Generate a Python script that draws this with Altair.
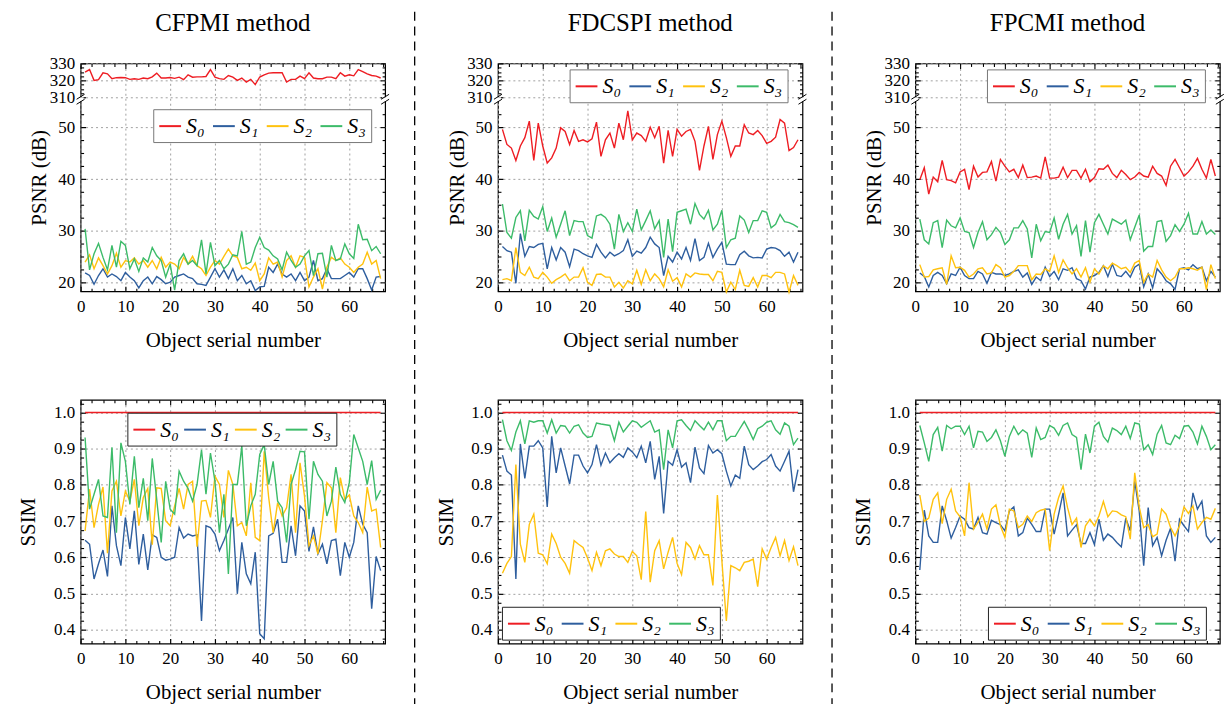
import altair as alt
import pandas as pd

X = list(range(1, 68))
SERIES = ["S₀", "S₁", "S₂", "S₃"]
COLORS = ["#EE1D23", "#2E5E9E", "#FFC20E", "#3CBB69"]
METHODS = ["CFPMI method", "FDCSPI method", "FPCMI method"]
X_TICKS = [0, 10, 20, 30, 40, 50, 60]
PSNR_LOW_TICKS = [20, 30, 40, 50]
PSNR_HIGH_TICKS = [310, 320, 330]
SSIM_TICKS = [0.4, 0.5, 0.6, 0.7, 0.8, 0.9, 1.0]

CF_PSNR_S0 = [324.9, 326.4, 320.0, 320.4, 324.5, 323.9, 321.0, 321.6, 321.7, 321.6, 320.6, 321.0, 320.6, 321.4, 321.0, 322.1, 324.3, 321.4, 321.4, 321.7, 321.2, 321.9, 320.4, 323.3, 321.9, 322.1, 322.1, 322.3, 326.4, 321.9, 321.0, 320.6, 322.9, 321.9, 320.0, 321.4, 319.0, 320.6, 317.5, 322.0, 323.3, 324.3, 324.5, 324.5, 324.5, 319.0, 320.6, 320.6, 322.5, 321.0, 324.5, 321.4, 321.0, 321.0, 321.9, 321.9, 321.0, 324.5, 322.5, 323.3, 322.7, 326.4, 325.2, 323.9, 322.9, 322.5, 321.4]
CF_PSNR_S1 = [21.9, 21.4, 19.7, 21.4, 22.7, 21.1, 21.7, 21.2, 20.4, 22.0, 21.1, 20.4, 19.0, 20.4, 21.1, 19.8, 21.2, 20.6, 19.8, 20.1, 21.1, 21.4, 21.7, 21.1, 20.8, 19.8, 19.7, 19.5, 21.1, 22.7, 21.1, 22.5, 20.8, 22.7, 20.4, 21.4, 19.8, 20.4, 18.5, 19.2, 19.3, 23.0, 22.0, 23.6, 21.7, 21.1, 21.7, 20.4, 22.0, 20.4, 21.1, 24.3, 20.4, 20.8, 22.7, 20.8, 20.8, 20.8, 21.4, 22.0, 21.1, 22.7, 22.7, 20.8, 18.6, 21.1, 21.2]
CF_PSNR_S2 = [24.0, 25.4, 22.7, 24.8, 23.3, 21.7, 23.3, 25.7, 23.0, 24.3, 24.0, 24.8, 23.6, 24.3, 23.0, 24.3, 22.7, 24.9, 23.0, 24.0, 23.6, 22.7, 24.9, 23.6, 25.1, 23.3, 22.7, 21.4, 23.0, 24.3, 23.6, 25.1, 26.5, 25.2, 24.9, 22.7, 23.0, 22.4, 23.8, 20.4, 21.7, 24.8, 23.6, 24.0, 21.1, 24.3, 25.2, 23.0, 25.2, 24.9, 19.2, 21.1, 22.7, 18.8, 23.0, 24.9, 24.3, 24.8, 23.6, 23.0, 22.0, 23.0, 23.6, 25.9, 23.6, 24.3, 20.8]
CF_PSNR_S3 = [30.4, 22.5, 25.6, 27.6, 24.9, 22.5, 27.2, 23.0, 28.0, 27.2, 22.7, 24.6, 22.2, 24.8, 24.0, 26.8, 25.2, 24.3, 21.1, 23.6, 18.6, 24.3, 25.6, 23.6, 24.3, 23.3, 28.3, 21.7, 27.8, 23.3, 24.3, 22.7, 23.6, 25.4, 25.2, 29.9, 23.6, 24.0, 26.8, 28.8, 26.8, 26.3, 25.2, 24.6, 22.5, 25.9, 24.3, 23.0, 23.6, 25.2, 26.2, 21.4, 25.6, 25.7, 21.1, 27.2, 24.3, 24.6, 27.5, 25.6, 24.7, 31.3, 28.3, 28.4, 26.2, 27.0, 25.6]

FD_PSNR_S0 = [49.6, 46.7, 46.0, 43.6, 46.4, 48.0, 51.2, 43.6, 50.8, 46.4, 43.1, 44.1, 46.0, 49.9, 49.2, 46.7, 49.4, 47.3, 47.6, 47.2, 47.8, 51.0, 44.4, 47.6, 48.9, 46.0, 50.8, 47.6, 53.2, 47.6, 48.9, 48.4, 47.3, 50.0, 48.0, 50.2, 43.1, 49.4, 44.4, 49.6, 48.3, 49.2, 49.6, 47.3, 41.7, 46.4, 50.2, 43.8, 48.6, 51.2, 48.0, 44.4, 46.4, 46.4, 50.5, 48.9, 48.6, 49.4, 48.4, 46.9, 47.3, 48.1, 51.5, 50.8, 45.5, 46.1, 47.6]
FD_PSNR_S1 = [27.0, 26.2, 25.9, 19.9, 29.5, 25.1, 27.0, 26.8, 27.4, 27.6, 22.7, 26.8, 24.4, 26.8, 25.9, 23.1, 26.5, 26.2, 25.6, 25.2, 24.9, 27.4, 25.9, 24.8, 25.9, 25.2, 25.6, 26.2, 28.3, 25.1, 26.1, 25.7, 26.8, 28.8, 27.5, 26.8, 21.4, 25.1, 24.0, 25.9, 24.6, 26.8, 24.3, 28.5, 24.3, 24.9, 27.6, 24.9, 26.5, 27.8, 23.6, 23.5, 23.5, 25.4, 26.1, 25.2, 24.8, 24.9, 24.8, 26.5, 26.8, 26.7, 26.2, 25.1, 25.9, 24.0, 25.9]
FD_PSNR_S2 = [20.6, 20.8, 20.4, 26.8, 22.0, 21.4, 23.0, 21.1, 20.8, 22.0, 21.1, 19.9, 20.6, 21.1, 21.7, 20.4, 21.1, 21.1, 22.9, 20.1, 19.5, 21.6, 21.7, 21.1, 21.1, 19.2, 20.1, 19.0, 20.4, 19.8, 22.4, 19.7, 22.5, 20.4, 21.7, 20.8, 19.2, 22.5, 20.3, 21.0, 19.2, 21.7, 21.1, 21.9, 21.7, 21.6, 21.6, 20.4, 22.2, 22.0, 18.2, 20.1, 18.7, 22.4, 19.5, 19.3, 21.0, 19.2, 21.4, 21.4, 21.0, 22.0, 22.0, 21.7, 18.2, 21.4, 19.5]
FD_PSNR_S3 = [35.2, 29.7, 28.6, 32.6, 33.9, 28.1, 34.0, 32.8, 32.3, 34.7, 29.9, 32.5, 28.8, 31.3, 33.9, 29.1, 32.0, 31.8, 31.8, 29.1, 28.6, 32.9, 33.2, 32.6, 31.3, 26.5, 33.2, 29.9, 31.6, 29.9, 34.2, 30.2, 32.0, 33.9, 30.4, 32.0, 24.9, 32.3, 26.0, 33.6, 33.9, 34.2, 31.3, 35.3, 33.2, 32.3, 34.0, 30.2, 31.3, 34.0, 26.8, 28.3, 28.6, 32.9, 32.1, 29.7, 32.0, 32.0, 33.9, 33.6, 30.6, 31.3, 33.2, 31.8, 31.6, 31.2, 30.7]

FP_PSNR_S0 = [39.9, 42.2, 37.1, 40.4, 39.5, 43.6, 39.9, 39.7, 39.3, 41.4, 41.9, 38.0, 42.5, 40.4, 41.3, 41.4, 43.4, 39.6, 43.8, 42.5, 41.4, 41.9, 40.3, 42.7, 40.3, 40.4, 40.6, 40.2, 44.3, 40.2, 40.2, 40.4, 42.3, 40.3, 41.7, 41.7, 40.2, 41.9, 39.5, 40.3, 42.0, 41.9, 42.7, 41.1, 40.3, 41.7, 40.9, 39.9, 40.4, 41.3, 40.6, 40.4, 42.5, 41.1, 40.6, 38.8, 42.5, 43.8, 42.2, 40.6, 41.4, 42.5, 44.0, 41.9, 40.2, 43.8, 40.6]
FP_PSNR_S1 = [21.9, 21.2, 19.2, 21.4, 22.0, 21.4, 19.8, 21.7, 21.4, 23.0, 21.4, 20.8, 20.8, 22.2, 21.7, 19.9, 22.0, 21.7, 21.7, 21.4, 21.7, 22.2, 22.5, 21.1, 21.9, 19.7, 21.1, 20.4, 23.0, 21.2, 22.2, 20.6, 22.7, 22.4, 22.9, 20.8, 20.4, 18.8, 21.1, 21.4, 22.0, 23.3, 21.2, 23.6, 21.4, 21.2, 22.2, 21.1, 23.0, 23.6, 19.2, 21.7, 19.0, 22.7, 21.7, 20.4, 19.8, 18.7, 22.7, 22.9, 22.5, 23.5, 22.7, 23.0, 20.4, 22.2, 21.1]
FP_PSNR_S2 = [23.5, 21.1, 21.2, 22.5, 22.7, 22.9, 19.7, 25.2, 22.9, 23.0, 22.4, 21.1, 21.7, 22.7, 22.9, 21.7, 21.9, 23.5, 22.9, 21.1, 21.4, 22.2, 23.3, 23.3, 23.3, 20.6, 21.7, 21.6, 22.7, 22.2, 25.2, 22.0, 24.4, 22.9, 21.7, 22.7, 21.1, 22.9, 20.1, 22.7, 21.7, 23.3, 22.7, 23.8, 23.3, 22.7, 23.0, 22.0, 23.8, 24.3, 20.1, 21.7, 21.1, 24.3, 22.5, 21.1, 20.4, 21.1, 22.7, 22.7, 22.9, 22.7, 22.4, 23.0, 18.7, 23.5, 20.8]
FP_PSNR_S3 = [32.3, 28.3, 27.5, 31.6, 32.0, 26.8, 32.1, 31.0, 30.6, 32.5, 29.9, 29.7, 26.8, 29.7, 31.8, 28.3, 29.3, 30.7, 29.7, 27.4, 28.3, 30.6, 30.6, 32.0, 30.4, 24.8, 31.3, 28.1, 29.9, 29.7, 32.5, 28.4, 31.3, 33.2, 29.4, 31.0, 25.1, 32.0, 25.9, 31.6, 33.2, 31.3, 29.4, 32.3, 31.8, 31.3, 32.1, 28.3, 30.7, 33.1, 26.1, 27.0, 27.0, 31.8, 32.0, 28.0, 29.1, 31.2, 29.9, 31.3, 33.4, 29.4, 29.4, 31.8, 29.4, 30.2, 29.3]

SSIM_S0 = [1.0, 1.0, 1.0, 1.0, 1.0, 1.0, 1.0, 1.0, 1.0, 1.0, 1.0, 1.0, 1.0, 1.0, 1.0, 1.0, 1.0, 1.0, 1.0, 1.0, 1.0, 1.0, 1.0, 1.0, 1.0, 1.0, 1.0, 1.0, 1.0, 1.0, 1.0, 1.0, 1.0, 1.0, 1.0, 1.0, 1.0, 1.0, 1.0, 1.0, 1.0, 1.0, 1.0, 1.0, 1.0, 1.0, 1.0, 1.0, 1.0, 1.0, 1.0, 1.0, 1.0, 1.0, 1.0, 1.0, 1.0, 1.0, 1.0, 1.0, 1.0, 1.0, 1.0, 1.0, 1.0, 1.0, 1.0]

CF_SSIM_S1 = [0.647, 0.636, 0.540, 0.582, 0.620, 0.547, 0.742, 0.632, 0.577, 0.710, 0.623, 0.728, 0.580, 0.664, 0.565, 0.662, 0.655, 0.600, 0.592, 0.595, 0.600, 0.682, 0.653, 0.664, 0.659, 0.662, 0.424, 0.687, 0.682, 0.664, 0.618, 0.646, 0.678, 0.710, 0.499, 0.641, 0.554, 0.527, 0.614, 0.389, 0.375, 0.659, 0.666, 0.705, 0.586, 0.586, 0.687, 0.604, 0.742, 0.728, 0.616, 0.684, 0.609, 0.636, 0.582, 0.646, 0.650, 0.549, 0.641, 0.600, 0.641, 0.742, 0.691, 0.668, 0.458, 0.602, 0.563]
CF_SSIM_S2 = [0.673, 0.788, 0.682, 0.746, 0.794, 0.611, 0.783, 0.810, 0.714, 0.783, 0.755, 0.815, 0.687, 0.765, 0.790, 0.635, 0.792, 0.790, 0.701, 0.687, 0.742, 0.790, 0.733, 0.801, 0.810, 0.629, 0.755, 0.757, 0.710, 0.824, 0.801, 0.710, 0.840, 0.801, 0.687, 0.696, 0.659, 0.806, 0.655, 0.646, 0.893, 0.765, 0.668, 0.751, 0.714, 0.737, 0.829, 0.668, 0.861, 0.769, 0.632, 0.659, 0.609, 0.701, 0.806, 0.792, 0.668, 0.820, 0.760, 0.772, 0.714, 0.696, 0.668, 0.794, 0.728, 0.733, 0.627]
CF_SSIM_S3 = [0.931, 0.733, 0.774, 0.815, 0.714, 0.710, 0.904, 0.668, 0.916, 0.865, 0.746, 0.879, 0.737, 0.818, 0.701, 0.873, 0.760, 0.641, 0.810, 0.733, 0.719, 0.838, 0.810, 0.790, 0.755, 0.801, 0.897, 0.774, 0.888, 0.810, 0.668, 0.774, 0.554, 0.801, 0.801, 0.907, 0.687, 0.742, 0.774, 0.884, 0.911, 0.801, 0.865, 0.755, 0.737, 0.641, 0.801, 0.842, 0.893, 0.891, 0.705, 0.865, 0.829, 0.810, 0.714, 0.755, 0.849, 0.774, 0.751, 0.806, 0.939, 0.902, 0.865, 0.801, 0.867, 0.760, 0.785]

FD_SSIM_S1 = [0.882, 0.838, 0.827, 0.540, 0.913, 0.818, 0.907, 0.907, 0.922, 0.902, 0.739, 0.934, 0.833, 0.902, 0.852, 0.803, 0.882, 0.882, 0.852, 0.833, 0.856, 0.911, 0.854, 0.888, 0.861, 0.875, 0.886, 0.876, 0.902, 0.891, 0.875, 0.907, 0.861, 0.920, 0.815, 0.879, 0.721, 0.865, 0.854, 0.897, 0.849, 0.861, 0.806, 0.904, 0.847, 0.831, 0.909, 0.888, 0.897, 0.886, 0.838, 0.797, 0.827, 0.818, 0.907, 0.856, 0.842, 0.852, 0.864, 0.870, 0.884, 0.852, 0.838, 0.865, 0.893, 0.781, 0.842]
FD_SSIM_S2 = [0.556, 0.583, 0.602, 0.856, 0.636, 0.586, 0.691, 0.719, 0.611, 0.607, 0.582, 0.664, 0.638, 0.600, 0.583, 0.556, 0.646, 0.636, 0.627, 0.598, 0.563, 0.614, 0.577, 0.618, 0.623, 0.609, 0.602, 0.602, 0.586, 0.616, 0.604, 0.538, 0.726, 0.531, 0.618, 0.646, 0.568, 0.614, 0.655, 0.583, 0.552, 0.641, 0.627, 0.595, 0.632, 0.607, 0.607, 0.522, 0.772, 0.591, 0.424, 0.577, 0.571, 0.563, 0.586, 0.589, 0.595, 0.519, 0.623, 0.595, 0.627, 0.655, 0.604, 0.646, 0.591, 0.629, 0.577]
FD_SSIM_S3 = [0.980, 0.922, 0.895, 0.946, 0.977, 0.913, 0.977, 0.973, 0.977, 0.977, 0.943, 0.980, 0.943, 0.964, 0.962, 0.943, 0.962, 0.966, 0.943, 0.931, 0.934, 0.971, 0.968, 0.966, 0.964, 0.922, 0.973, 0.946, 0.962, 0.977, 0.973, 0.959, 0.968, 0.977, 0.946, 0.952, 0.842, 0.952, 0.902, 0.977, 0.980, 0.964, 0.950, 0.977, 0.964, 0.952, 0.973, 0.952, 0.977, 0.977, 0.922, 0.934, 0.934, 0.955, 0.975, 0.952, 0.925, 0.955, 0.962, 0.973, 0.977, 0.952, 0.940, 0.971, 0.962, 0.911, 0.929]

FP_SSIM_S1 = [0.565, 0.730, 0.659, 0.641, 0.641, 0.742, 0.701, 0.653, 0.682, 0.714, 0.705, 0.682, 0.678, 0.710, 0.668, 0.664, 0.702, 0.696, 0.690, 0.673, 0.728, 0.739, 0.659, 0.668, 0.708, 0.691, 0.671, 0.671, 0.733, 0.733, 0.664, 0.719, 0.778, 0.659, 0.675, 0.690, 0.638, 0.638, 0.668, 0.635, 0.705, 0.647, 0.664, 0.655, 0.641, 0.629, 0.708, 0.673, 0.810, 0.728, 0.577, 0.737, 0.632, 0.655, 0.604, 0.647, 0.680, 0.589, 0.705, 0.687, 0.671, 0.778, 0.733, 0.755, 0.659, 0.641, 0.655]
FP_SSIM_S2 = [0.772, 0.699, 0.708, 0.760, 0.778, 0.693, 0.760, 0.788, 0.728, 0.712, 0.659, 0.806, 0.678, 0.696, 0.719, 0.678, 0.733, 0.745, 0.687, 0.655, 0.733, 0.728, 0.682, 0.691, 0.714, 0.699, 0.723, 0.730, 0.733, 0.618, 0.719, 0.765, 0.797, 0.737, 0.690, 0.708, 0.627, 0.687, 0.705, 0.687, 0.714, 0.754, 0.712, 0.728, 0.726, 0.717, 0.712, 0.650, 0.833, 0.739, 0.682, 0.690, 0.657, 0.664, 0.733, 0.719, 0.682, 0.659, 0.687, 0.739, 0.721, 0.742, 0.678, 0.696, 0.710, 0.705, 0.735]
FP_SSIM_S3 = [0.964, 0.916, 0.865, 0.939, 0.959, 0.893, 0.964, 0.955, 0.962, 0.962, 0.939, 0.962, 0.902, 0.948, 0.946, 0.920, 0.931, 0.952, 0.922, 0.879, 0.934, 0.962, 0.939, 0.952, 0.943, 0.876, 0.957, 0.925, 0.931, 0.964, 0.957, 0.937, 0.964, 0.971, 0.939, 0.931, 0.842, 0.940, 0.888, 0.962, 0.973, 0.934, 0.918, 0.957, 0.950, 0.939, 0.962, 0.928, 0.971, 0.968, 0.897, 0.911, 0.884, 0.940, 0.964, 0.916, 0.911, 0.937, 0.928, 0.962, 0.964, 0.946, 0.913, 0.962, 0.934, 0.897, 0.911]

# ---------------------------------------------------------------- layout
FONT = "Liberation Serif"
W = 306
SEP_W = 54
H_PSNR = 229
H_SSIM = 245
# broken PSNR axis: values >= 310 are drawn on a compressed upper segment
BREAK_BASE = 55.8
BREAK_K = 0.326
PSNR_DOMAIN = [18.35, 62.33]
SSIM_DOMAIN = [0.3615, 1.035]


def brk(t):
    return BREAK_BASE + (t - 310) * BREAK_K


PSNR_Y_VALUES = PSNR_LOW_TICKS + [brk(t) for t in PSNR_HIGH_TICKS]
X_MINOR = [k * 2.5 for k in range(1, 28) if k % 4 != 0]
PSNR_Y_MINOR = [k * 2.5 for k in range(9, 22) if k % 4 != 0] + \
    [brk(310 + k * 2.5) for k in range(1, 8) if k % 4 != 0]
SSIM_Y_MINOR = [k / 1000 for k in range(375, 1026, 25) if k % 100 != 0]

GRID = dict(grid=True, gridColor="#a0a0a0", gridDash=[2, 3], gridWidth=1)
TXT = dict(labelFont=FONT, labelFontSize=17, labelColor="black", titleFont=FONT,
           titleFontSize=21, titleFontWeight="normal", titleColor="black")


def frame(vals):
    rows = []
    for name, series in zip(SERIES, vals):
        assert len(series) == len(X), (name, len(series))
        for x, v in zip(X, series):
            rows.append({"x": x, "v": v, "s": name})
    return pd.DataFrame(rows)


def x_main():
    return alt.Axis(values=X_TICKS, title="Object serial number", domain=False,
                    tickColor="black", tickSize=5, tickWidth=1.2, offset=-5,
                    labelPadding=7, labelFlush=False, labelOverlap=False,
                    titleY=54, titleBaseline="middle", **GRID, **TXT)


def y_main(values, title, title_x, label_expr=None, fmt=None):
    kw = dict(values=values, title=title, domain=False, tickColor="black",
              tickSize=5, tickWidth=1.2, offset=-5, labelPadding=6,
              labelFlush=False, labelOverlap=False, titleX=title_x,
              titleBaseline="middle", **GRID, **TXT)
    if label_expr:
        kw["labelExpr"] = label_expr
    if fmt:
        kw["format"] = fmt
    return alt.Axis(**kw)


def tick_axis(orient, values, size):
    return alt.Axis(orient=orient, values=values, labels=False, title=None,
                    grid=False, domain=False, ticks=True, tickSize=size,
                    tickWidth=1.1, tickColor="black", offset=-size)


def legend(lx, ly, gap, border):
    return alt.Legend(title=None, orient="none", legendX=lx, legendY=ly,
                      direction="horizontal", columns=4, symbolType="stroke",
                      symbolSize=480, symbolStrokeWidth=2, labelFont=FONT,
                      labelFontSize=22, labelFontStyle="italic", labelColor="black",
                      labelOffset=4, columnPadding=gap, padding=5,
                      strokeColor=border, fillColor="white")


def panel(df, yfield, ydomain, y_axis_main, y_major, y_minor, leg):
    xs = alt.Scale(domain=[0, 68], nice=False, zero=False)
    ys = alt.Scale(domain=ydomain, nice=False, zero=False)
    main = df.mark_line(strokeWidth=1.4).encode(
        x=alt.X("x:Q", scale=xs, axis=x_main()),
        y=alt.Y(yfield, scale=ys, axis=y_axis_main),
        color=alt.Color("s:N", scale=alt.Scale(domain=SERIES, range=COLORS),
                        legend=legend(*leg)),
        order=alt.Order("x:Q"),
    )
    layers = [main]
    for (xo, yo, xv, yv, size) in [("top", "right", X_TICKS, y_major, 5),
                                   ("bottom", "left", X_MINOR, y_minor, 3),
                                   ("top", "right", X_MINOR, y_minor, 3)]:
        layers.append(df.mark_point(opacity=0).encode(
            x=alt.X("x:Q", scale=xs, axis=tick_axis(xo, xv, size)),
            y=alt.Y(yfield, scale=ys, axis=tick_axis(yo, yv, size)),
        ))
    return layers


ONE = pd.DataFrame({"k": [0]})


def psnr_chart(vals, title, leg):
    df = alt.Chart(frame(vals)).transform_calculate(
        yy=f"datum.v < 100 ? datum.v : {BREAK_BASE} + (datum.v - 310) * {BREAK_K}")
    yaxis = y_main(PSNR_Y_VALUES, "PSNR (dB)", -46,
                   label_expr=f"datum.value > 55 ? format((datum.value - {BREAK_BASE}) / {BREAK_K} + 310, '.0f') : format(datum.value, '.0f')")
    layers = panel(df, "yy:Q", PSNR_DOMAIN, yaxis, PSNR_Y_VALUES, PSNR_Y_MINOR, leg)
    deco = alt.Chart(ONE)
    for ex in (0, W):
        layers.append(deco.mark_rect(color="white").encode(
            x=alt.value(ex - 3), x2=alt.value(ex + 3), y=alt.value(34), y2=alt.value(38)))
        layers.append(deco.mark_rule(color="black", strokeWidth=1).encode(
            x=alt.value(ex - 4), x2=alt.value(ex + 4), y=alt.value(36), y2=alt.value(31)))
        layers.append(deco.mark_rule(color="black", strokeWidth=1).encode(
            x=alt.value(ex - 4), x2=alt.value(ex + 4), y=alt.value(41), y2=alt.value(36)))
    return alt.layer(*layers).resolve_axis(x="independent", y="independent").properties(
        width=W, height=H_PSNR,
        title=alt.TitleParams(text=title, font=FONT, fontSize=25, fontWeight="normal",
                              color="black", offset=19, anchor="middle", frame="group"))


def ssim_chart(vals, leg):
    df = alt.Chart(frame(vals))
    yaxis = y_main(SSIM_TICKS, "SSIM", -57, fmt=".1f")
    layers = panel(df, "v:Q", SSIM_DOMAIN, yaxis, SSIM_TICKS, SSIM_Y_MINOR, leg)
    return alt.layer(*layers).resolve_axis(x="independent", y="independent").properties(
        width=W, height=H_SSIM)


def separator(visible):
    return alt.Chart(ONE).mark_rule(color="black", strokeWidth=1.3, strokeDash=[9, 6],
                                    opacity=1 if visible else 0).encode(
        x=alt.value(0), y=alt.value(-52), y2=alt.value(650 if visible else 10)
    ).properties(width=SEP_W, height=10, view=alt.ViewBackground(stroke="transparent"))


psnr_sets = [
    [CF_PSNR_S0, CF_PSNR_S1, CF_PSNR_S2, CF_PSNR_S3],
    [FD_PSNR_S0, FD_PSNR_S1, FD_PSNR_S2, FD_PSNR_S3],
    [FP_PSNR_S0, FP_PSNR_S1, FP_PSNR_S2, FP_PSNR_S3],
]
ssim_sets = [
    [SSIM_S0, CF_SSIM_S1, CF_SSIM_S2, CF_SSIM_S3],
    [SSIM_S0, FD_SSIM_S1, FD_SSIM_S2, FD_SSIM_S3],
    [SSIM_S0, FP_SSIM_S1, FP_SSIM_S2, FP_SSIM_S3],
]
# legend placement (x, y, column gap, border colour)
psnr_leg = [(73, 46, 4, "#777777"), (72, 6, 4, "#777777"), (72, 6, 4, "#777777")]
ssim_leg = [(47, 13, 1, "#222222"), (4, 208, 4, "#222222"), (73, 208, 4, "#222222")]

row1, row2 = [], []
for i in range(3):
    if i > 0:
        row1.append(separator(True))
        row2.append(separator(False))
    row1.append(psnr_chart(psnr_sets[i], METHODS[i], psnr_leg[i]))
    row2.append(ssim_chart(ssim_sets[i], ssim_leg[i]))

chart = alt.concat(*row1, *row2, columns=5, spacing={"row": 109, "column": 29.7},
                   bounds="flush", align="each").resolve_scale(
    color="independent").resolve_legend(color="independent").properties(
    padding={"left": 17, "top": 8, "right": 0, "bottom": 0},
    background="white",
).configure_view(stroke="black", strokeWidth=1.2)

chart.save("out.html", embed_options={"renderer": "svg", "actions": False})
